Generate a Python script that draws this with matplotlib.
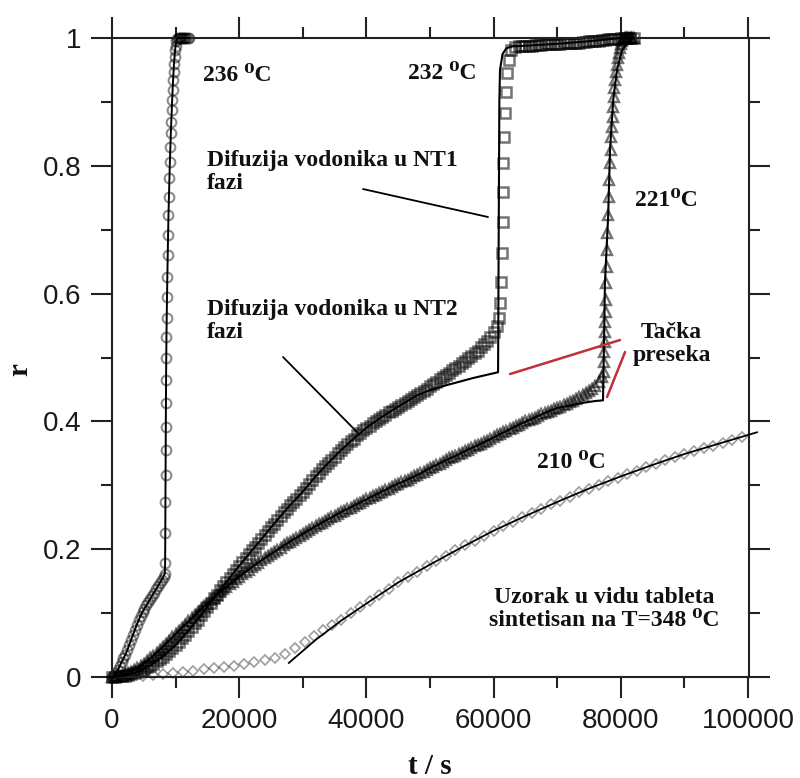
import matplotlib
matplotlib.use("Agg")
import matplotlib.pyplot as plt
from matplotlib.ticker import MultipleLocator

# ---------------- data ----------------
# 236 C  (circles)
t236 = [0, 300, 600, 900, 1200, 1500, 1800, 2100, 2400, 2700,
        3000, 3300, 3600, 3900, 4200, 4500, 4800, 5100, 5400, 5700,
        6000, 6300, 6600, 6900, 7200, 7500, 7800, 8100, 8300,
        8350, 8380, 8400, 8420, 8440, 8460, 8480, 8500, 8530, 8560,
        8600, 8650, 8700, 8760, 8820, 8880, 8950, 9030, 9100, 9180,
        9250, 9320, 9400, 9460, 9530, 9600, 9670, 9750, 9830, 9920,
        10000, 10100, 10250,
        10400, 10550, 10700, 10850, 11000, 11150, 11300, 11500, 11700, 11900, 12100]
r236 = [0, 0.002, 0.006, 0.011, 0.017, 0.023, 0.029, 0.035, 0.042, 0.050,
        0.058, 0.066, 0.074, 0.082, 0.089, 0.096, 0.102, 0.107, 0.112, 0.117,
        0.122, 0.127, 0.132, 0.137, 0.142, 0.147, 0.152, 0.157, 0.162,
        0.178, 0.225, 0.274, 0.316, 0.355, 0.391, 0.429, 0.465, 0.499, 0.532,
        0.562, 0.595, 0.626, 0.660, 0.692, 0.723, 0.751, 0.781, 0.806, 0.830,
        0.851, 0.869, 0.888, 0.903, 0.919, 0.934, 0.947, 0.960, 0.970, 0.981,
        0.988, 0.995, 0.999,
        1.0, 1.0, 1.0, 1.0, 1.0, 1.0, 1.0, 1.0, 1.0, 1.0, 1.0]

# 232 C  (squares)
t232 = [0, 500, 1000, 1500, 2000, 2500, 3000, 3500, 4000, 4500,
        5000, 5500, 6000, 6500, 7000, 7500, 8000, 8500, 9000, 9500,
        10000, 10500, 11000, 11500, 12000, 12500, 13000, 13500, 14000, 14500,
        15000, 15500, 16000, 16500, 17000, 17500, 18000, 18500, 19000, 19500,
        20000, 20500, 21000, 21500, 22000, 22500, 23000, 23500, 24000, 24500,
        25000, 25500, 26000, 26500, 27000, 27500, 28000, 28500, 29000, 29500,
        30000, 30500, 31000, 31500, 32000, 32500, 33000, 33500, 34000, 34500,
        35000, 35500, 36000, 36500, 37000, 37500, 38000, 38500, 39000, 39500,
        40000, 40500, 41000, 41500, 42000, 42500, 43000, 43500, 44000, 44500,
        45000, 45500, 46000, 46500, 47000, 47500, 48000, 48500, 49000, 49500,
        50000, 50500, 51000, 51500, 52000, 52500, 53000, 53500, 54000, 54500,
        55000, 55500, 56000, 56500, 57000, 57500, 58000, 58500, 59000, 59500,
        60000, 60500,
        60800, 61000, 61200, 61300, 61400, 61450, 61500, 61600, 61750, 61900,
        62100, 62400, 62800, 63300,
        64000, 64500, 65000, 65500, 66000, 66500, 67000, 67500, 68000, 68500,
        69000, 69500, 70000, 70500, 71000, 71500, 72000, 72500, 73000, 73500,
        74000, 74500, 75000, 75500, 76000, 76500, 77000, 77500, 78000, 78500,
        79000, 79500, 80000, 80500, 81000, 81500, 82000]
r232 = [0, 0.000, 0.001, 0.001, 0.002, 0.003, 0.005, 0.006, 0.008, 0.010,
        0.013, 0.015, 0.018, 0.021, 0.025, 0.028, 0.032, 0.036, 0.041, 0.045,
        0.050, 0.055, 0.061, 0.066, 0.072, 0.078, 0.084, 0.090, 0.097, 0.103,
        0.110, 0.116, 0.123, 0.129, 0.136, 0.142, 0.149, 0.155, 0.161, 0.168,
        0.174, 0.180, 0.186, 0.192, 0.198, 0.204, 0.210, 0.216, 0.222, 0.228,
        0.234, 0.240, 0.246, 0.252, 0.258, 0.263, 0.269, 0.274, 0.279, 0.285,
        0.290, 0.296, 0.302, 0.308, 0.314, 0.319, 0.325, 0.330, 0.335, 0.340,
        0.345, 0.350, 0.355, 0.360, 0.365, 0.369, 0.373, 0.378, 0.382, 0.386,
        0.390, 0.393, 0.397, 0.400, 0.404, 0.407, 0.410, 0.414, 0.417, 0.420,
        0.423, 0.426, 0.429, 0.432, 0.435, 0.438, 0.441, 0.444, 0.448, 0.451,
        0.455, 0.458, 0.462, 0.466, 0.469, 0.473, 0.476, 0.480, 0.484, 0.487,
        0.491, 0.495, 0.499, 0.503, 0.507, 0.511, 0.516, 0.521, 0.526, 0.532,
        0.540, 0.550,
        0.562, 0.585, 0.618, 0.663, 0.712, 0.759, 0.804, 0.845, 0.883, 0.916,
        0.945, 0.966, 0.981, 0.986,
        0.987, 0.987, 0.988, 0.988, 0.988, 0.989, 0.989, 0.989, 0.990, 0.990,
        0.990, 0.991, 0.991, 0.991, 0.992, 0.992, 0.992, 0.993, 0.993, 0.993,
        0.994, 0.994, 0.995, 0.995, 0.996, 0.996, 0.997, 0.997, 0.998, 0.998,
        0.999, 0.999, 1.0, 1.0, 1.0, 1.0, 1.0]

# 221 C  (triangles)
t221 = [0, 500, 1000, 1500, 2000, 2500, 3000, 3500, 4000, 4500,
        5000, 5500, 6000, 6500, 7000, 7500, 8000, 8500, 9000, 9500,
        10000, 10500, 11000, 11500, 12000, 12500, 13000, 13500, 14000, 14500,
        15000, 15500, 16000, 16500, 17000, 17500, 18000, 18500, 19000, 19500,
        20000, 20500, 21000, 21500, 22000, 22500, 23000, 23500, 24000, 24500,
        25000, 25500, 26000, 26500, 27000, 27500, 28000, 28500, 29000, 29500,
        30000, 30500, 31000, 31500, 32000, 32500, 33000, 33500, 34000, 34500,
        35000, 35500, 36000, 36500, 37000, 37500, 38000, 38500, 39000, 39500,
        40000, 40500, 41000, 41500, 42000, 42500, 43000, 43500, 44000, 44500,
        45000, 45500, 46000, 46500, 47000, 47500, 48000, 48500, 49000, 49500,
        50000, 50500, 51000, 51500, 52000, 52500, 53000, 53500, 54000, 54500,
        55000, 55500, 56000, 56500, 57000, 57500, 58000, 58500, 59000, 59500,
        60000, 60500, 61000, 61500, 62000, 62500, 63000, 63500, 64000, 64500,
        65000, 65500, 66000, 66500, 67000, 67500, 68000, 68500, 69000, 69500,
        70000, 70500, 71000, 71500, 72000, 72500, 73000, 73500, 74000, 74500,
        75000, 75500, 76000, 76500, 77000,
        77300, 77350, 77400, 77450, 77500, 77550, 77600, 77650, 77700, 77800,
        77850, 77900, 78000, 78100, 78200, 78300, 78400, 78500, 78600, 78700,
        78800, 78900, 79000, 79100, 79250, 79400, 79550, 79700, 79850, 80000,
        80200, 80400, 80600, 80800, 81000, 81200, 81400, 81600, 81800, 82000]
r221 = [0, 0.000, 0.001, 0.002, 0.004, 0.006, 0.008, 0.011, 0.014, 0.017,
        0.021, 0.025, 0.029, 0.033, 0.038, 0.042, 0.047, 0.052, 0.057, 0.062,
        0.067, 0.072, 0.077, 0.082, 0.087, 0.092, 0.097, 0.101, 0.106, 0.111,
        0.115, 0.120, 0.124, 0.128, 0.133, 0.137, 0.141, 0.145, 0.149, 0.153,
        0.157, 0.161, 0.165, 0.168, 0.172, 0.176, 0.179, 0.183, 0.186, 0.189,
        0.193, 0.196, 0.199, 0.202, 0.206, 0.209, 0.212, 0.215, 0.218, 0.221,
        0.224, 0.227, 0.230, 0.233, 0.236, 0.239, 0.241, 0.244, 0.247, 0.250,
        0.252, 0.255, 0.258, 0.260, 0.263, 0.265, 0.268, 0.270, 0.273, 0.275,
        0.278, 0.280, 0.283, 0.285, 0.288, 0.290, 0.293, 0.295, 0.298, 0.300,
        0.302, 0.305, 0.307, 0.309, 0.312, 0.314, 0.316, 0.319, 0.321, 0.324,
        0.327, 0.329, 0.332, 0.334, 0.337, 0.339, 0.342, 0.344, 0.346, 0.349,
        0.351, 0.354, 0.356, 0.358, 0.361, 0.363, 0.365, 0.368, 0.370, 0.373,
        0.375, 0.378, 0.380, 0.383, 0.385, 0.388, 0.390, 0.393, 0.395, 0.397,
        0.400, 0.402, 0.404, 0.406, 0.409, 0.411, 0.413, 0.415, 0.417, 0.419,
        0.421, 0.423, 0.426, 0.428, 0.430, 0.432, 0.435, 0.438, 0.441, 0.444,
        0.447, 0.451, 0.455, 0.461, 0.469,
        0.477, 0.493, 0.509, 0.524, 0.540, 0.556, 0.571, 0.590, 0.617, 0.642,
        0.668, 0.695, 0.723, 0.751, 0.778, 0.804, 0.825, 0.845, 0.861, 0.876,
        0.892, 0.908, 0.922, 0.934, 0.947, 0.958, 0.969, 0.977, 0.984, 0.991,
        0.995, 0.998, 1.0, 1.0, 1.0, 1.0, 1.0, 1.0, 1.0, 1.0]

# 210 C  (diamonds)
t210 = [0, 1600, 3200, 4800, 6400, 8000, 9600, 11200, 12800, 14400,
        16000, 17600, 19200, 20800, 22400, 24000, 25600, 27200, 28800, 30400,
        31800, 33200, 34600, 36000,
        37500, 39000, 40500, 42000, 43500, 45000, 46500, 48000, 49500, 51000,
        52500, 54000, 55500, 57000, 58500, 60000, 61500, 63000, 64500, 66000,
        67500, 69000, 70500, 72000, 73500, 75000, 76500, 78000, 79500, 81000,
        82500, 84000, 85500, 87000, 88500, 90000, 91500, 93000, 94500, 96000,
        97500, 99000]
r210 = [0, 0, 0.001, 0.002, 0.003, 0.004, 0.006, 0.008, 0.010, 0.012,
        0.014, 0.016, 0.018, 0.020, 0.023, 0.026, 0.030, 0.036, 0.045, 0.055,
        0.064, 0.073, 0.081, 0.090,
        0.100, 0.109, 0.119, 0.128, 0.138, 0.148, 0.156, 0.165, 0.173, 0.181,
        0.190, 0.198, 0.206, 0.213, 0.221, 0.229, 0.236, 0.243, 0.250, 0.256,
        0.263, 0.270, 0.276, 0.282, 0.289, 0.295, 0.301, 0.306, 0.312, 0.318,
        0.323, 0.328, 0.334, 0.339, 0.344, 0.349, 0.353, 0.358, 0.362, 0.367,
        0.371, 0.375]

# model (fit) lines
fit232_t = [0, 2000, 4000, 6000, 8000, 10000, 12000, 14000, 16000, 18000,
            20000, 22000, 24000, 26000, 28000, 30000, 32000, 34000, 36000, 38000,
            40000, 42000, 44000, 46000, 48000, 50000, 52700, 56800, 60700,
            60800, 60900, 61000, 61400, 62000, 63000, 65000, 70000, 75000, 80000, 82000]
fit232_r = [0, 0.002, 0.008, 0.018, 0.032, 0.050, 0.072, 0.097, 0.123, 0.149,
            0.174, 0.198, 0.222, 0.246, 0.269, 0.290, 0.314, 0.335, 0.355, 0.373,
            0.390, 0.404, 0.417, 0.429, 0.441, 0.449, 0.457, 0.468, 0.477,
            0.70, 0.90, 0.95, 0.975, 0.984, 0.987, 0.988, 0.991, 0.995, 1.0, 1.0]

fit221_t = [0, 2000, 4000, 6000, 8000, 10000, 12000, 14000, 16000, 18000,
            20000, 22000, 24000, 26000, 28000, 30000, 32000, 34000, 36000, 38000,
            40000, 42000, 44000, 46000, 48000, 50000, 52000, 54000, 56000, 58000,
            60000, 62000, 64000, 66000, 68000, 70000,
            72000, 74000, 76000, 77200, 77400, 77500, 78000, 78300, 78800, 79400,
            80200, 81400, 82000]
fit221_r = [0, 0.004, 0.014, 0.029, 0.047, 0.067, 0.087, 0.106, 0.124, 0.141,
            0.157, 0.172, 0.186, 0.199, 0.212, 0.224, 0.236, 0.247, 0.258, 0.268,
            0.278, 0.288, 0.298, 0.307, 0.316, 0.327, 0.337, 0.346, 0.356, 0.365,
            0.375, 0.385, 0.395, 0.404, 0.413, 0.421,
            0.425, 0.429, 0.432, 0.433, 0.55, 0.617, 0.72, 0.825, 0.903, 0.95,
            0.981, 0.997, 1.0]

fit210_t = [27800, 32000, 36000, 40000, 45000, 50000, 55000, 60000, 65000,
            70000, 75000, 80000, 85000, 90000, 95000, 101400]
fit210_r = [0.022, 0.058, 0.088, 0.115, 0.148, 0.176, 0.203, 0.229, 0.252,
            0.274, 0.295, 0.314, 0.332, 0.349, 0.364, 0.383]

xticks = [0, 20000, 40000, 60000, 80000, 100000]
xtick_labels = ["0", "20000", "40000", "60000", "80000", "100000"]
yticks = [0, 0.2, 0.4, 0.6, 0.8, 1.0]
ytick_labels = ["0", "0.2", "0.4", "0.6", "0.8", "1"]

# ---------------- figure ----------------
serif = ["Liberation Serif", "DejaVu Serif"]
sans = ["Liberation Sans", "DejaVu Sans"]

fig = plt.figure(figsize=(8, 7.78), dpi=100)
ax = fig.add_axes([0.14, 0.1298, 0.79625, 0.8213])

mk = dict(ls="none", mfc="none", clip_on=False, zorder=2)
ax.plot(t236, r236, marker="o", ms=7.0, mec=(0, 0, 0, 0.45), mew=1.5, **mk)
ax.plot(t232, r232, marker="s", ms=6.5, mec=(0, 0, 0, 0.55), mew=1.8, **mk)
ax.plot(t221, r221, marker="^", ms=7.0, mec=(0, 0, 0, 0.55), mew=1.7, **mk)
ax.plot(t210, r210, marker="D", ms=5.0, mec=(0, 0, 0, 0.38), mew=1.2, **mk)

ln = dict(color="black", clip_on=False, zorder=3)
ax.plot(t236, r236, lw=1.4, **ln)
ax.plot(fit232_t, fit232_r, lw=1.5, **ln)
ax.plot(fit221_t, fit221_r, lw=1.5, **ln)
ax.plot(fit210_t, fit210_r, lw=1.3, **ln)

ax.set_xlim(0, 100150)
ax.set_ylim(0, 1)
ax.set_xticks(xticks, xtick_labels)
ax.set_yticks(yticks, ytick_labels)
ax.xaxis.set_minor_locator(MultipleLocator(10000))
ax.yaxis.set_minor_locator(MultipleLocator(0.1))
ax.tick_params(which="both", direction="out", top=True, right=True, width=1.5,
               colors="#222222")
ax.tick_params(which="major", length=15, pad=7, labelsize=20)
ax.tick_params(which="minor", length=8)
for lab in ax.get_xticklabels() + ax.get_yticklabels():
    lab.set_fontfamily(sans)
    lab.set_color("#1a1a1a")
for s in ax.spines.values():
    s.set_linewidth(1.5)
    s.set_color("#222222")

# annotations
tk = dict(fontfamily=serif, fontweight="bold", fontsize=17, color="#111111")
ax.text(14300, 0.942, "236 \u2070C", va="center", ha="left", **tk)
ax.text(46500, 0.945, "232 \u2070C", va="center", ha="left", **tk)
ax.text(82200, 0.746, "221\u2070C", va="center", ha="left", **tk)
ax.text(66800, 0.336, "210 \u2070C", va="center", ha="left", **tk)
ax.text(14900, 0.825, "Difuzija vodonika u NT1\nfazi", va="top", ha="left",
        linespacing=1.15, **tk)
ax.text(14900, 0.592, "Difuzija vodonika u NT2\nfazi", va="top", ha="left",
        linespacing=1.15, **tk)
ax.text(88000, 0.556, "Tačka\npreseka", va="top", ha="center",
        linespacing=1.15, **tk)
ax.text(77400, 0.141, "Uzorak u vidu tableta\nsintetisan na T=348 \u2070C",
        va="top", ha="center", linespacing=1.15, **tk)

pk = dict(arrowprops=dict(arrowstyle="-", color="black", lw=1.3,
                          shrinkA=0, shrinkB=0))
ax.annotate("", xy=(59119, 0.7199), xytext=(39465, 0.7637), **pk)
ax.annotate("", xy=(38679, 0.3818), xytext=(26890, 0.5008), **pk)
rk = dict(arrowprops=dict(arrowstyle="-", color="#c0303a", lw=1.8,
                          shrinkA=0, shrinkB=0))
ax.annotate("", xy=(62579, 0.4742), xytext=(79874, 0.5274), **rk)
ax.annotate("", xy=(77830, 0.4382), xytext=(80660, 0.5086), **rk)

fig.text(20 / 800, 1 - 370 / 778, "r", rotation=90, ha="center", va="center",
         fontfamily=serif, fontweight="bold", fontsize=21, color="#111111")
fig.text(430 / 800, 1 - 766 / 778, "t / s", ha="center", va="center",
         fontfamily=serif, fontweight="bold", fontsize=21, color="#111111")

fig.savefig("out.png", dpi=100)
